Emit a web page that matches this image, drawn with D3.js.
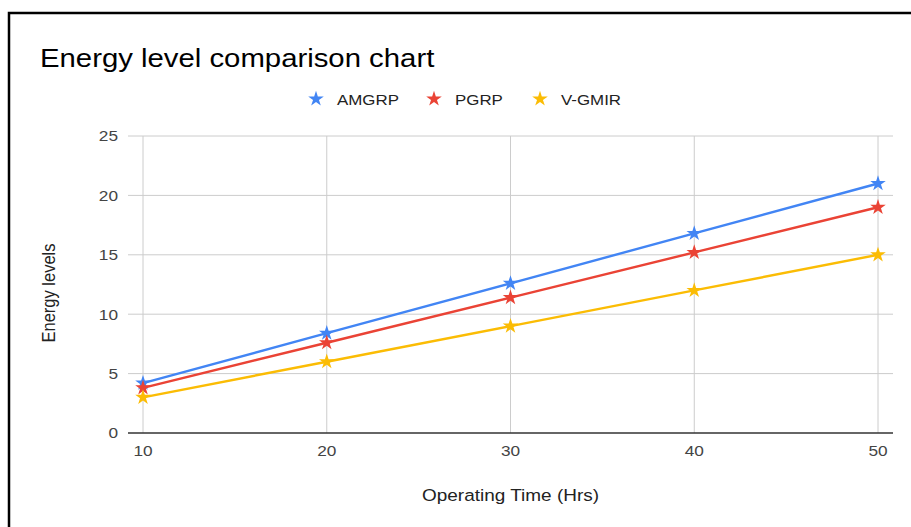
<!DOCTYPE html>
<html><head><meta charset="utf-8">
<script src="https://cdn.jsdelivr.net/npm/d3@7"></script>
<style>
html,body{margin:0;padding:0;background:#fff;}
svg{display:block;font-family:"Liberation Sans",Arial,sans-serif;}
</style></head>
<body>
<svg id="c" width="911" height="527"></svg>
<script>
const hours = [10, 20, 30, 40, 50];
const seriesNames = ["AMGRP", "PGRP", "V-GMIR"];
const amgrp = [4.2, 8.4, 12.6, 16.8, 21];
const pgrp = [3.8, 7.6, 11.4, 15.2, 19];
const vgmir = [3, 6, 9, 12, 15];
const seriesColors = ["#4285F4", "#EA4335", "#FBBC04"];
const yTicks = [0, 5, 10, 15, 20, 25];

const series = [amgrp, pgrp, vgmir].map((v, i) => ({name: seriesNames[i], color: seriesColors[i], values: v}));
const SX = 1.15; // horizontal text stretch seen in the reference

const svg = d3.select("#c");
// frame
svg.append("rect").attr("x", 9).attr("y", 13).attr("width", 960).attr("height", 600)
  .attr("fill", "none").attr("stroke", "#000").attr("stroke-width", 2.5);

const x = d3.scaleLinear().domain([10, 50]).range([143, 878]);
const y = d3.scaleLinear().domain([0, 25]).range([433, 136]);
const left = 128, right = 893;

function txt(g, tx, ty, s, size, anchor, fill, rot) {
  return g.append("text")
    .attr("transform", `translate(${tx},${ty}) scale(${SX},1)` + (rot ? ` rotate(${rot})` : ""))
    .attr("text-anchor", anchor).attr("font-size", size).attr("fill", fill).text(s);
}

// gridlines horizontal
svg.append("g").selectAll("line").data(yTicks.filter(d => d > 0)).join("line")
  .attr("x1", left).attr("x2", right).attr("y1", d => y(d)).attr("y2", d => y(d))
  .attr("stroke", "#cccccc").attr("stroke-width", 1);
// vertical gridlines
svg.append("g").selectAll("line").data(hours).join("line")
  .attr("x1", d => x(d)).attr("x2", d => x(d)).attr("y1", y(25)).attr("y2", y(0))
  .attr("stroke", "#cccccc").attr("stroke-width", 1);
// baseline
svg.append("line").attr("x1", left).attr("x2", right).attr("y1", y(0)).attr("y2", y(0))
  .attr("stroke", "#333").attr("stroke-width", 1.5);

// y tick labels
const gy = svg.append("g");
yTicks.forEach(d => txt(gy, 118, y(d) + 5.3, d, 15, "end", "#444"));
// x tick labels
const gx = svg.append("g");
hours.forEach(d => txt(gx, x(d), 456, d, 15, "middle", "#444"));

// lines
const line = d3.line().x((d, i) => x(hours[i])).y(d => y(d));
const star = d3.symbol().type(d3.symbolStar).size(75);
series.forEach(s => {
  svg.append("path").attr("d", line(s.values)).attr("fill", "none")
    .attr("stroke", s.color).attr("stroke-width", 2.4);
  svg.append("g").selectAll("path").data(s.values).join("path")
    .attr("d", star).attr("transform", (d, i) => `translate(${x(hours[i])},${y(d)})`)
    .attr("fill", s.color);
});

// title
txt(svg, 40, 66.5, "Energy level comparison chart", 25.5, "start", "#000");

// legend
const legX = [316, 434, 540];
series.forEach((s, i) => {
  svg.append("path").attr("d", d3.symbol().type(d3.symbolStar).size(75)())
    .attr("transform", `translate(${legX[i]},99)`).attr("fill", s.color);
  txt(svg, legX[i] + 21, 104.5, s.name, 14.7, "start", "#222");
});

// axis titles
txt(svg, 510.5, 500.5, "Operating Time (Hrs)", 16.5, "middle", "#222");
svg.append("text").attr("transform", "translate(55,293) scale(1.15,1) rotate(-90)")
  .attr("text-anchor", "middle").attr("font-size", 16.5).attr("fill", "#222").text("Energy levels");
</script>
</body></html>
